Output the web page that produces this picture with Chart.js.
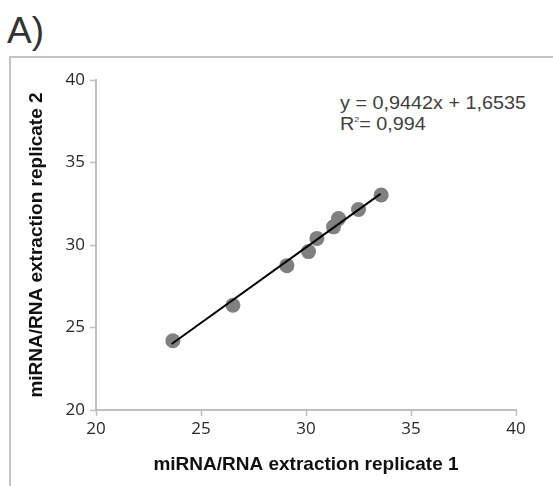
<!DOCTYPE html>
<html>
<head>
<meta charset="utf-8">
<script src="https://cdn.jsdelivr.net/npm/chart.js@4"></script>
<style>
	html, body { margin: 0; padding: 0; background: #fff; overflow: hidden; }
	#panel { position: absolute; left: 0; top: 0; width: 553px; height: 486px; }
	#frame { position: absolute; left: 9px; top: 56px; width: 600px; height: 500px; border: 2px solid #c4c4c4; }
	#label { position: absolute; left: 7px; top: 11px; font: 37px "Liberation Sans", Arial, sans-serif; color: #333; line-height: 40px; }
	#eq { position: absolute; left: 340px; top: 93px; font: 18px "Liberation Sans", Arial, sans-serif; color: #404040; line-height: 21px; transform: scaleX(1.1); transform-origin: 0 0; white-space: nowrap; }
	#eq sup { font-size: 8px; vertical-align: 8px; line-height: 0; }
	#wrap { position: absolute; left: 0; top: 0; width: 553px; height: 486px; }
</style>
</head>
<body>
<div id="panel">
	<div id="frame"></div>
	<div id="label">A)</div>
	<div id="eq">y = 0,9442x + 1,6535<br>R<sup>2</sup>= 0,994</div>
	<div id="wrap"><canvas id="chart"></canvas></div>
</div>
<script>
'use strict';

// replicate 1 (x) vs replicate 2 (y)
const rep1 = [23.66, 26.52, 29.09, 30.12, 30.52, 31.31, 31.55, 32.50, 33.58];
const rep2 = [24.2, 26.35, 28.75, 29.6, 30.4, 31.1, 31.6, 32.15, 33.03];

// trendline ends, as drawn
const fitX = [23.6, 33.55];
const fitY = [24.0, 33.1];

const axisMin = 20;
const axisMax = 40;
const axisStep = 5;

const
	axisColor = '#bfbfbf',
	tickFont = {family: 'Open Sans', size: 17},
	titleFont = {family: 'Liberation Sans', size: 19, weight: 'bold', lineHeight: 1.2};

function makeAxis(title, isY) {
	return {
		type: 'linear',
		min: axisMin,
		max: axisMax,
		ticks: {
			stepSize: axisStep,
			font: tickFont,
			color: '#2a2a2a',
			padding: isY ? 5 : 3
		},
		grid: {
			drawOnChartArea: false,
			drawTicks: true,
			tickLength: 6,
			tickWidth: 1.5,
			tickColor: axisColor,
			color: axisColor
		},
		border: {color: axisColor, width: 2},
		title: {
			display: true,
			text: title,
			color: '#111',
			font: titleFont,
			padding: isY ? {top: 25, bottom: 0} : {top: 0, bottom: 10}
		},
		afterFit(scale) {
			if (isY) {
				scale.width = 96;
			} else {
				scale.height = 76;
			}
		}
	};
}

new Chart(document.getElementById('chart'), {
	type: 'scatter',
	data: {
		datasets: [
			{
				type: 'line',
				data: fitX.map((x, i) => ({x, y: fitY[i]})),
				borderColor: '#000',
				borderWidth: 2,
				pointRadius: 0,
				order: 0
			},
			{
				data: rep1.map((x, i) => ({x, y: rep2[i]})),
				backgroundColor: '#808080',
				borderWidth: 0,
				pointRadius: 7.5,
				order: 1
			}
		]
	},
	options: {
		responsive: true,
		maintainAspectRatio: false,
		animation: false,
		layout: {padding: {top: 80, right: 37, bottom: 0, left: 0}},
		plugins: {legend: {display: false}, tooltip: {enabled: false}},
		scales: {
			x: makeAxis('miRNA/RNA extraction replicate 1', false),
			y: makeAxis('miRNA/RNA extraction replicate 2', true)
		}
	}
});
</script>
</body>
</html>
